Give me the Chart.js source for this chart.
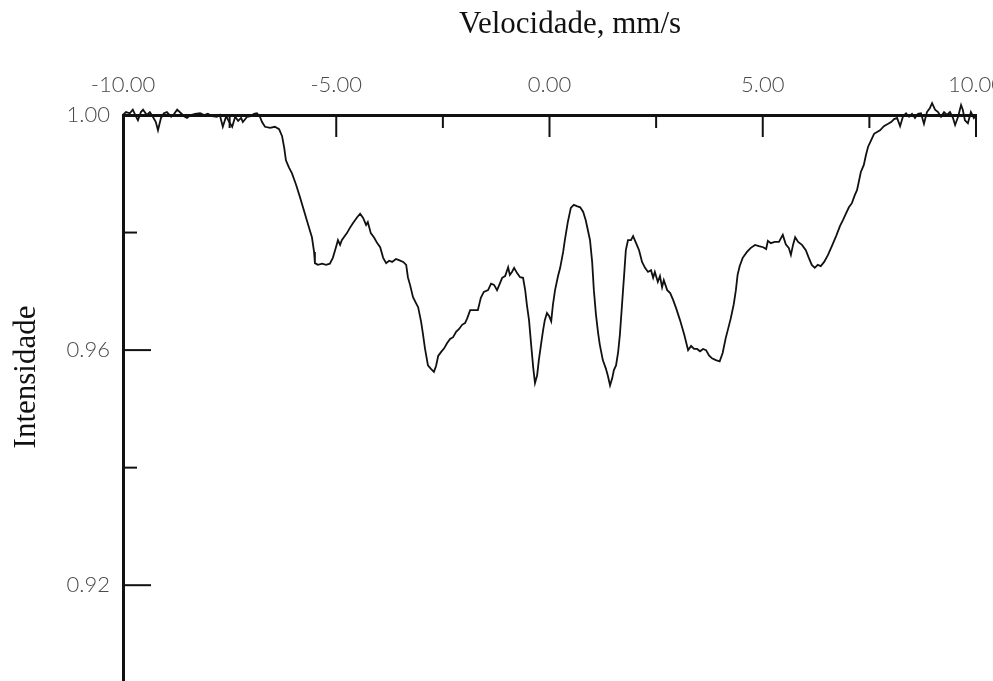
<!DOCTYPE html>
<html>
<head>
<meta charset="utf-8">
<script src="https://cdn.jsdelivr.net/npm/chart.js@4.4.1/dist/chart.umd.min.js"></script>
<style>
  html, body { margin: 0; padding: 0; background: #fff; }
  #wrap { width: 993px; height: 681px; position: relative; }
</style>
</head>
<body>
<div id="wrap"><canvas id="spectrum"></canvas></div>
<script>
// Mossbauer spectrum
const velocity = [
  -10.00, -9.93, -9.84, -9.77, -9.70, -9.65, -9.58, -9.53, -9.44, -9.37, -9.30, -9.23, -9.18, -9.11, -9.04, -8.97,
  -8.87, -8.80, -8.73, -8.64, -8.57, -8.50, -8.41, -8.31, -8.19, -8.10, -8.01, -7.91, -7.80, -7.73, -7.66, -7.58,
  -7.51, -7.44, -7.37, -7.30, -7.23, -7.19, -7.09, -7.00, -6.93, -6.86, -6.79, -6.74, -6.67, -6.55, -6.44, -6.34,
  -6.27, -6.22, -6.18, -6.11, -6.04, -5.94, -5.85, -5.78, -5.69, -5.62, -5.57, -5.52, -5.50, -5.43, -5.33, -5.24,
  -5.15, -5.08, -5.01, -4.96, -4.91, -4.87, -4.80, -4.75, -4.68, -4.61, -4.51, -4.44, -4.37, -4.30, -4.26, -4.19,
  -4.11, -4.04, -3.97, -3.90, -3.83, -3.76, -3.69, -3.60, -3.53, -3.43, -3.36, -3.32, -3.27, -3.20, -3.13, -3.08,
  -3.01, -2.97, -2.92, -2.85, -2.78, -2.71, -2.66, -2.61, -2.54, -2.47, -2.40, -2.33, -2.26, -2.19, -2.12, -2.05,
  -1.98, -1.93, -1.86, -1.77, -1.68, -1.61, -1.54, -1.44, -1.37, -1.30, -1.23, -1.16, -1.11, -1.04, -0.97, -0.93,
  -0.88, -0.83, -0.76, -0.69, -0.62, -0.57, -0.53, -0.48, -0.43, -0.38, -0.34, -0.29, -0.25, -0.20, -0.15, -0.11,
  -0.06, -0.01, 0.04, 0.08, 0.13, 0.20, 0.25, 0.32, 0.36, 0.43, 0.50, 0.57, 0.64, 0.72, 0.79, 0.85,
  0.90, 0.95, 1.00, 1.04, 1.09, 1.14, 1.18, 1.25, 1.32, 1.37, 1.42, 1.47, 1.51, 1.56, 1.61, 1.65,
  1.70, 1.75, 1.79, 1.84, 1.91, 1.96, 2.03, 2.10, 2.17, 2.24, 2.31, 2.38, 2.43, 2.47, 2.54, 2.59,
  2.64, 2.68, 2.76, 2.83, 2.90, 2.97, 3.06, 3.16, 3.25, 3.32, 3.39, 3.46, 3.53, 3.60, 3.67, 3.74,
  3.81, 3.90, 3.99, 4.06, 4.13, 4.18, 4.25, 4.32, 4.37, 4.41, 4.46, 4.53, 4.63, 4.72, 4.82, 4.91,
  5.01, 5.08, 5.12, 5.19, 5.28, 5.38, 5.47, 5.54, 5.61, 5.66, 5.71, 5.76, 5.83, 5.92, 6.01, 6.08,
  6.15, 6.22, 6.29, 6.36, 6.44, 6.53, 6.62, 6.72, 6.81, 6.88, 6.95, 7.02, 7.09, 7.16, 7.21, 7.26,
  7.30, 7.37, 7.42, 7.47, 7.54, 7.61, 7.68, 7.75, 7.84, 7.94, 8.01, 8.08, 8.15, 8.22, 8.29, 8.36,
  8.43, 8.50, 8.57, 8.64, 8.71, 8.78, 8.85, 8.92, 8.97, 9.04, 9.11, 9.18, 9.25, 9.32, 9.39, 9.46,
  9.51, 9.58, 9.65, 9.69, 9.74, 9.81, 9.88, 9.95, 10.00
];
const intensity = [
  1.0000, 1.0005, 1.0003, 1.0009, 0.9998, 0.9991, 1.0005, 1.0009, 1.0000, 1.0005, 0.9997, 0.9988, 0.9974, 0.9995, 1.0003, 1.0005,
  0.9997, 1.0002, 1.0009, 1.0003, 0.9998, 0.9995, 1.0000, 1.0002, 1.0003, 1.0000, 1.0002, 0.9998, 0.9997, 1.0000, 0.9980, 0.9998,
  0.9988, 0.9980, 0.9997, 0.9990, 0.9995, 0.9988, 0.9997, 0.9998, 1.0002, 1.0003, 0.9997, 0.9988, 0.9980, 0.9978, 0.9980, 0.9976,
  0.9964, 0.9944, 0.9923, 0.9911, 0.9901, 0.9881, 0.9860, 0.9843, 0.9821, 0.9804, 0.9792, 0.9767, 0.9748, 0.9745, 0.9747, 0.9745,
  0.9747, 0.9757, 0.9774, 0.9787, 0.9779, 0.9787, 0.9794, 0.9799, 0.9808, 0.9816, 0.9826, 0.9832, 0.9825, 0.9813, 0.9818, 0.9799,
  0.9791, 0.9782, 0.9775, 0.9757, 0.9748, 0.9752, 0.9750, 0.9755, 0.9753, 0.9750, 0.9745, 0.9724, 0.9711, 0.9690, 0.9680, 0.9673,
  0.9648, 0.9629, 0.9603, 0.9574, 0.9568, 0.9563, 0.9573, 0.9590, 0.9597, 0.9603, 0.9612, 0.9619, 0.9622, 0.9631, 0.9636, 0.9643,
  0.9646, 0.9654, 0.9668, 0.9668, 0.9668, 0.9689, 0.9699, 0.9702, 0.9713, 0.9711, 0.9702, 0.9714, 0.9723, 0.9726, 0.9741, 0.9728,
  0.9733, 0.9740, 0.9731, 0.9724, 0.9723, 0.9702, 0.9677, 0.9651, 0.9609, 0.9569, 0.9544, 0.9557, 0.9583, 0.9609, 0.9634, 0.9651,
  0.9663, 0.9658, 0.9649, 0.9677, 0.9702, 0.9726, 0.9740, 0.9767, 0.9787, 0.9818, 0.9842, 0.9847, 0.9845, 0.9843, 0.9835, 0.9821,
  0.9804, 0.9787, 0.9750, 0.9702, 0.9660, 0.9629, 0.9609, 0.9583, 0.9569, 0.9556, 0.9540, 0.9552, 0.9566, 0.9574, 0.9597, 0.9626,
  0.9677, 0.9728, 0.9770, 0.9787, 0.9787, 0.9794, 0.9782, 0.9770, 0.9750, 0.9740, 0.9733, 0.9736, 0.9723, 0.9733, 0.9716, 0.9726,
  0.9707, 0.9719, 0.9702, 0.9697, 0.9685, 0.9671, 0.9651, 0.9626, 0.9600, 0.9607, 0.9602, 0.9602, 0.9598, 0.9602, 0.9600, 0.9591,
  0.9586, 0.9583, 0.9581, 0.9595, 0.9620, 0.9634, 0.9654, 0.9678, 0.9702, 0.9728, 0.9743, 0.9757, 0.9767, 0.9774, 0.9779, 0.9777,
  0.9775, 0.9772, 0.9786, 0.9782, 0.9784, 0.9784, 0.9796, 0.9780, 0.9774, 0.9762, 0.9779, 0.9792, 0.9784, 0.9779, 0.9770, 0.9757,
  0.9745, 0.9740, 0.9745, 0.9743, 0.9750, 0.9762, 0.9777, 0.9794, 0.9811, 0.9821, 0.9832, 0.9843, 0.9850, 0.9864, 0.9872, 0.9889,
  0.9903, 0.9915, 0.9932, 0.9946, 0.9957, 0.9968, 0.9971, 0.9974, 0.9981, 0.9985, 0.9988, 0.9993, 0.9995, 0.9981, 0.9998, 1.0003,
  0.9997, 1.0002, 0.9995, 1.0002, 1.0003, 0.9985, 1.0005, 1.0012, 1.0020, 1.0009, 1.0005, 0.9997, 1.0005, 1.0000, 1.0005, 0.9995,
  0.9983, 0.9997, 1.0017, 1.0009, 0.9991, 0.9986, 1.0005, 0.9995, 1.0000
];

const xTitle = 'Velocidade, mm/s';
const yTitle = 'Intensidade';
const xRange = [-10, 10];
const yRange = [0.9037, 1.00];
const xStep = 2.5;   // labelled every 5
const yStep = 0.02;  // labelled every 0.04

const points = velocity.map((v, i) => ({ x: v, y: intensity[i] }));

// tick marks pointing into the plot, long for labelled ticks
const innerTicks = {
  id: 'innerTicks',
  afterDraw(chart) {
    const { ctx, chartArea, scales } = chart;
    ctx.save();
    ctx.strokeStyle = '#111';
    ctx.lineWidth = 2;
    scales.x.ticks.forEach(t => {
      const major = Math.abs(t.value / 5 - Math.round(t.value / 5)) < 1e-6;
      const px = scales.x.getPixelForValue(t.value);
      ctx.beginPath();
      ctx.moveTo(px, chartArea.top);
      ctx.lineTo(px, chartArea.top + (major ? 22 : 13));
      ctx.stroke();
    });
    scales.y.ticks.forEach(t => {
      const major = Math.round(t.value * 100) % 4 === 0;
      const py = scales.y.getPixelForValue(t.value);
      ctx.beginPath();
      ctx.moveTo(chartArea.left, py);
      ctx.lineTo(chartArea.left + (major ? 28 : 14), py);
      ctx.stroke();
    });
    ctx.restore();
  }
};

// axis titles sit off-centre in the original figure
const axisTitles = {
  id: 'axisTitles',
  afterDraw(chart) {
    const { ctx } = chart;
    ctx.save();
    ctx.fillStyle = '#111';
    ctx.font = '31px "Liberation Serif", "Times New Roman", serif';
    ctx.textAlign = 'center';
    ctx.textBaseline = 'alphabetic';
    ctx.fillText(xTitle, 570, 33);
    ctx.translate(35, 377);
    ctx.rotate(-Math.PI / 2);
    ctx.fillText(yTitle, 0, 0);
    ctx.restore();
  }
};

// keep the plot box fixed: labels may run past the edges
function fixBox(scale, size) {
  if (scale.isHorizontal()) scale.height = size; else scale.width = size;
  scale.paddingLeft = 0;
  scale.paddingRight = 0;
  scale.paddingTop = 0;
  scale.paddingBottom = 0;
}

const tickFont = { family: 'Lato, "Open Sans", sans-serif', size: 22, weight: 300 };

new Chart(document.getElementById('spectrum'), {
  type: 'line',
  data: {
    datasets: [{
      data: points,
      borderColor: '#111',
      borderWidth: 1.8,
      pointRadius: 0,
      tension: 0,
      clip: false
    }]
  },
  options: {
    responsive: true,
    maintainAspectRatio: false,
    animation: false,
    layout: { padding: { left: 0, right: 17, top: 0, bottom: 0 } },
    plugins: { legend: { display: false }, tooltip: { enabled: false } },
    scales: {
      x: {
        type: 'linear',
        position: 'top',
        min: xRange[0],
        max: xRange[1],
        afterFit(scale) { fixBox(scale, 115); },
        border: { color: '#111', width: 3 },
        grid: { display: true, drawOnChartArea: false, drawTicks: false },
        ticks: {
          stepSize: xStep,
          autoSkip: false,
          maxRotation: 0,
          padding: 17,
          color: '#4a4a4a',
          font: tickFont,
          callback: v => (Math.abs(v / 5 - Math.round(v / 5)) < 1e-6 ? v.toFixed(2) : '')
        }
      },
      y: {
        type: 'linear',
        position: 'left',
        min: yRange[0],
        max: yRange[1],
        afterFit(scale) { fixBox(scale, 123); },
        border: { color: '#111', width: 3 },
        grid: { display: true, drawOnChartArea: false, drawTicks: false },
        ticks: {
          stepSize: yStep,
          includeBounds: false,
          autoSkip: false,
          padding: 13,
          color: '#4a4a4a',
          font: tickFont,
          callback: v => (Math.round(v * 100) % 4 === 0 ? v.toFixed(2) : '')
        }
      }
    }
  },
  plugins: [innerTicks, axisTitles]
});
</script>
</body>
</html>
